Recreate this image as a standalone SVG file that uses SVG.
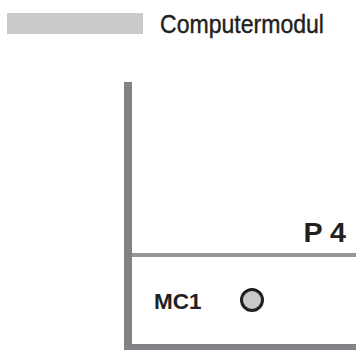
<svg xmlns="http://www.w3.org/2000/svg" width="356" height="350" viewBox="0 0 356 350">
<style>
.lbl{font-family:"Liberation Sans",Arial,sans-serif;fill:#231f20}
.b{font-weight:bold}
.frame{fill:#808285}
</style>
<rect width="356" height="350" fill="#ffffff"/>
<g id="legend">
<rect x="7" y="13" width="136" height="21" fill="#c8c9cb"/>
<text class="lbl" x="160" y="32.5" font-size="25.5" textLength="164" lengthAdjust="spacingAndGlyphs" stroke="#231f20" stroke-width="0.4">Computermodul</text>
</g>
<g id="frame">
<rect class="frame" x="124" y="82" width="8" height="268"/>
<rect class="frame" x="124" y="344" width="232" height="6"/>
<rect x="132" y="253" width="224" height="4" fill="#939598"/>
</g>
<g id="p4">
<text class="lbl b" x="303.5" y="242" font-size="27" textLength="42.5" lengthAdjust="spacingAndGlyphs">P 4</text>
</g>
<g id="mc1">
<text class="lbl b" x="154" y="308.7" font-size="22.5" textLength="47.5" lengthAdjust="spacingAndGlyphs">MC1</text>
<circle cx="252" cy="300" r="10.5" fill="#c8c9cb" stroke="#231f20" stroke-width="3"/>
</g>
</svg>
